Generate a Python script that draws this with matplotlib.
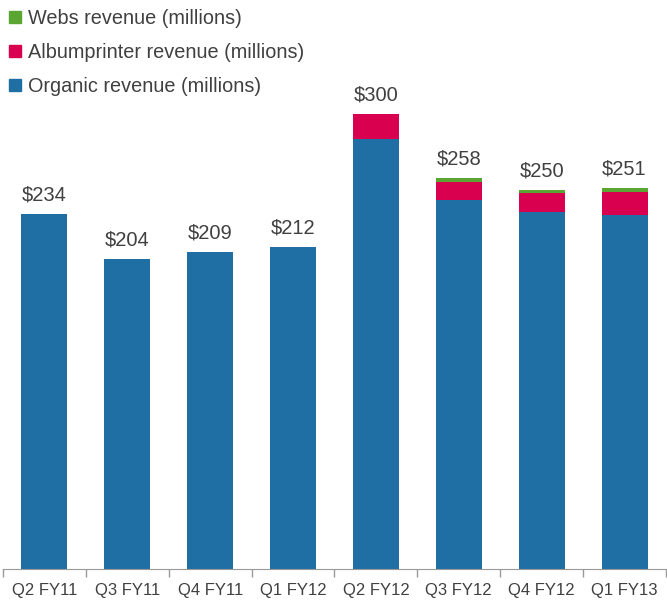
import matplotlib.pyplot as plt
from matplotlib.lines import Line2D

quarters = ['Q2 FY11', 'Q3 FY11', 'Q4 FY11', 'Q1 FY12', 'Q2 FY12', 'Q3 FY12', 'Q4 FY12', 'Q1 FY13']
organic = [234, 204, 209, 212, 283.5, 243, 235.5, 233.5]
albumprinter = [0, 0, 0, 0, 16.5, 12, 12, 15]
webs = [0, 0, 0, 0, 0, 3, 2.5, 2.5]
totals = ['$234', '$204', '$209', '$212', '$300', '$258', '$250', '$251']

c_org = '#1F6FA5'
c_alb = '#D8004F'
c_web = '#5BA532'
txt = '#404040'

plt.rcParams['font.family'] = ['Liberation Sans', 'DejaVu Sans']

fig = plt.figure(figsize=(6.67, 6.03), dpi=100)
ax = fig.add_axes([3 / 667, 1 - 569 / 603, 663 / 667, 569 / 603])

x = range(len(quarters))
w = 0.555
bottom2 = [o + a for o, a in zip(organic, albumprinter)]
ax.bar(x, organic, w, color=c_org)
ax.bar(x, albumprinter, w, bottom=organic, color=c_alb)
ax.bar(x, webs, w, bottom=bottom2, color=c_web)

for i, lab in enumerate(totals):
    top = organic[i] + albumprinter[i] + webs[i]
    ax.text(i, top + 12.5, lab, ha='center', va='center', fontsize=14.5, color=txt)

ax.set_xlim(-0.5, len(quarters) - 0.5)
ax.set_ylim(0, 375)
ax.set_yticks([])
ax.set_xticks([i + 0.5 for i in range(-1, len(quarters))], minor=False)
ax.set_xticklabels([])
ax.tick_params(axis='x', length=6, color='#999999', width=1)
ax.set_xticks(list(x), minor=True)
ax.set_xticklabels(quarters, minor=True)
ax.tick_params(axis='x', which='minor', length=0, labelsize=12, labelcolor=txt, pad=10)
for s in ['top', 'right', 'left']:
    ax.spines[s].set_visible(False)
ax.spines['bottom'].set_color('#999999')

handles = [
    Line2D([], [], marker='s', ls='', color=c_web, markersize=8),
    Line2D([], [], marker='s', ls='', color=c_alb, markersize=8),
    Line2D([], [], marker='s', ls='', color=c_org, markersize=8),
]
labels = ['Webs revenue (millions)', 'Albumprinter revenue (millions)', 'Organic revenue (millions)']
leg = fig.legend(handles, labels, loc='upper left', bbox_to_anchor=(0.0, 0.998), frameon=False,
                 fontsize=14.3, handlelength=0.7, handletextpad=0.3, labelspacing=0.75, borderaxespad=0)
for t in leg.get_texts():
    t.set_color(txt)

fig.savefig('out.png', dpi=100)
